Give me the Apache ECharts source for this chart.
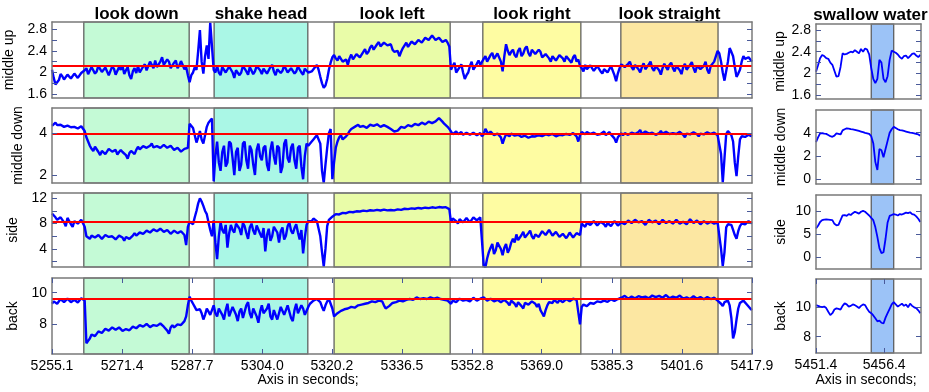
<!DOCTYPE html>
<html>
<head>
<meta charset="utf-8">
<script src="https://cdn.jsdelivr.net/npm/echarts@6/dist/echarts.min.js"></script>
<style>
html, body { margin: 0; padding: 0; background: #fff; }
#chart { width: 929px; height: 392px; }
</style>
</head>
<body>
<div id="chart"></div>
<script>
// sampling of the recordings (seconds)
var leftStart = 5255.1, leftStep = 0.4;
var rightStart = 5451.4, rightStep = 0.15;
var leftRange = [5255.1, 5417.9];
var rightRange = [5451.4, 5459.1];
var leftTicks = [5255.1, 5271.4, 5287.7, 5304.0, 5320.2, 5336.5, 5352.8, 5369.0, 5385.3, 5401.6, 5417.9];
var rightTicks = [5451.4, 5456.4];

var channels = ['middle up', 'middle down', 'side', 'back'];

var activities = ['look down', 'shake head', 'look left', 'look right', 'look straight'];
var activityStart = [5262.5, 5292.8, 5320.7, 5355.3, 5387.4];
var activityEnd = [5287.0, 5314.6, 5347.7, 5378.1, 5410.0];
var swallowName = 'swallow water';
var swallowStart = 5455.45, swallowEnd = 5457.1;

// red reference level per channel
var refLevels = [2.13, 3.95, 8.25, 9.62];

var middleUp = [
  2.05,1.9, 1.78,1.82, 1.86,1.97, 1.93,1.87, 1.88,1.96, 1.95,1.89, 1.9,1.98, 1.96,1.9, 1.92,1.99, 1.97,2.04,
  2.08,1.97, 2.0,2.1, 2.12,1.98, 2.02,2.13, 2.06,2.01, 1.98,2.09, 2.1,1.95, 2.03,2.11, 2.07,1.96, 1.99,2.1,
  2.05,2.12, 1.97,2.04, 2.1,1.95, 1.88,2.02, 2.08,1.99, 2.12,2.0, 2.03,2.11, 2.15,2.04, 2.06,2.2, 2.18,2.08,
  2.22,2.1, 2.12,2.2, 2.28,2.14, 2.15,2.24, 2.2,2.08, 2.1,2.18, 2.22,2.08, 2.13,2.21, 2.18,2.06, 2.1,1.95,
  1.82,1.95, 2.0,2.1, 2.05,2.4, 2.78,2.2, 1.98,2.3, 2.5,2.25, 2.92,2.9, 2.05,2.0, 2.12,2.0, 1.95,2.1,
  2.08,2.0, 1.98,2.11, 2.1,2.0, 1.9,2.04, 2.06,1.95, 2.0,2.12, 2.12,2.02, 1.96,2.1, 2.08,1.97, 2.02,2.12,
  2.15,2.04, 1.97,2.07, 2.1,1.98, 2.0,2.1, 2.14,2.02, 1.95,2.06, 2.08,1.99, 2.03,2.13, 2.12,2.0, 1.98,2.08,
  2.1,1.98, 2.02,2.11, 2.08,2.0, 1.96,2.07, 2.05,2.0, 1.98,2.02, 2.05,2.1, 2.14,2.05, 1.92,1.8, 1.72,1.76,
  1.88,2.05, 2.18,2.28, 2.32,2.26, 2.22,2.3, 2.28,2.2, 2.18,2.24, 2.14,2.26, 2.33,2.24, 2.26,2.34, 2.36,2.28,
  2.3,2.38, 2.43,2.34, 2.38,2.46, 2.5,2.42, 2.45,2.52, 2.56,2.48, 2.5,2.55, 2.58,2.5, 2.47,2.52, 2.42,2.38,
  2.35,2.4, 2.3,2.38, 2.45,2.5, 2.55,2.47, 2.5,2.57, 2.6,2.52, 2.54,2.6, 2.62,2.55, 2.58,2.64, 2.67,2.6,
  2.62,2.68, 2.66,2.6, 2.58,2.64, 2.62,2.56, 2.54,2.6, 2.55,2.48, 2.05,2.12, 2.18,2.0, 2.02,2.1, 2.15,2.0,
  1.88,1.95, 2.0,2.12, 2.2,2.05, 2.08,2.16, 2.22,2.14, 2.12,2.25, 2.3,2.2, 2.22,2.32, 2.36,2.25, 2.28,2.35,
  2.38,2.2, 2.02,2.3, 2.52,2.4, 2.32,2.38, 2.42,2.32, 2.28,2.4, 2.45,2.3, 2.35,2.44, 2.48,2.36, 2.3,2.42,
  2.44,2.34, 2.32,2.42, 2.38,2.28, 2.25,2.34, 2.36,2.26, 2.2,2.3, 2.33,2.22, 2.24,2.32, 2.35,2.26, 2.2,2.3,
  2.3,2.22, 2.18,2.28, 2.32,2.2, 2.24,2.12, 2.08,2.02, 2.14,2.06, 2.05,2.13, 2.12,2.03, 2.04,2.12, 2.1,2.02,
  1.98,2.06, 2.08,2.0, 2.02,2.12, 2.1,1.95, 1.84,1.98, 2.08,2.15, 2.18,2.1, 2.08,2.16, 2.2,2.1, 2.05,2.14,
  2.15,2.06, 2.0,2.1, 2.17,2.06, 2.07,2.15, 2.2,2.08, 2.03,2.12, 2.14,2.04, 1.96,2.08, 2.16,2.1, 2.05,2.14,
  2.18,2.08, 2.02,2.12, 2.13,2.04, 1.97,2.1, 2.16,2.05, 2.06,2.14, 2.19,2.08, 2.0,2.12, 2.15,2.06, 2.04,2.12,
  2.2,2.05, 1.98,2.12, 2.15,2.2, 2.22,2.4, 2.35,2.2, 2.0,1.85, 1.82,2.2, 2.45,2.38, 2.3,2.1, 1.92,1.98,
  2.05,2.2, 2.3,2.25, 2.22,2.28, 2.24,2.2
];
var middleDown = [
  4.35,4.42, 4.5,4.38, 4.3,4.4, 4.45,4.3, 4.25,4.36, 4.4,4.28, 4.2,4.3, 4.35,4.22, 4.25,4.33, 4.3,4.1,
  3.8,3.6, 3.4,3.25, 3.15,3.35, 3.3,3.1, 2.95,3.15, 3.2,3.0, 3.05,3.25, 3.3,3.12, 3.1,3.2, 2.98,3.1,
  3.2,3.1, 3.05,2.95, 2.78,3.05, 3.15,3.08, 3.0,3.2, 3.35,3.22, 3.2,3.38, 3.45,3.3, 3.3,3.4, 3.5,3.32,
  3.25,3.38, 3.4,3.3, 3.3,3.44, 3.42,3.3, 3.28,3.4, 3.35,3.2, 3.15,3.3, 3.25,3.12, 3.1,3.25, 3.2,3.3,
  4.45,4.38, 4.25,3.9, 3.55,3.8, 4.1,3.7, 3.5,3.9, 4.3,4.5, 4.6,4.7, 1.7,2.9, 3.6,2.6, 2.2,3.1,
  3.4,2.4, 2.6,3.6, 3.5,2.8, 2.0,3.1, 3.3,2.2, 2.5,3.5, 3.6,2.7, 2.3,3.4, 3.2,2.5, 2.0,3.2,
  3.5,2.9, 2.7,3.3, 3.4,2.5, 2.2,3.2, 3.6,2.9, 2.5,3.4, 3.3,2.1, 2.4,3.5, 3.7,2.8, 2.6,3.3,
  3.5,2.7, 2.3,3.3, 3.4,2.4, 1.8,2.9, 3.5,3.4, 3.45,3.6, 3.7,3.8, 3.9,3.95, 3.5,2.2, 1.62,2.5,
  3.3,4.0, 4.2,1.8, 2.6,3.3, 3.6,3.8, 3.9,3.7, 3.75,3.85, 3.95,4.1, 4.2,4.22, 4.3,4.35, 4.4,4.3,
  4.28,4.34, 4.38,4.25, 4.3,4.4, 4.45,4.35, 4.32,4.42, 4.4,4.3, 4.3,4.38, 4.42,4.3, 4.25,4.2, 4.15,4.08,
  4.05,4.12, 4.2,4.3, 4.35,4.25, 4.3,4.38, 4.42,4.32, 4.35,4.44, 4.48,4.38, 4.4,4.5, 4.52,4.42, 4.45,4.55,
  4.58,4.48, 4.5,4.56, 4.6,4.72, 4.68,4.55, 4.45,4.38, 4.3,4.2, 4.15,3.95, 4.02,4.08, 3.95,3.88, 4.05,3.92,
  3.9,4.02, 4.0,3.92, 3.88,4.02, 3.98,3.9, 3.92,4.0, 3.85,3.95, 4.2,4.05, 3.95,4.08, 4.05,3.9, 3.85,3.98,
  4.0,3.8, 3.5,3.75, 3.95,3.9, 3.85,3.98, 4.02,3.88, 3.8,3.92, 3.95,3.82, 3.75,3.88, 3.9,3.78, 3.7,3.85,
  3.92,3.84, 3.8,3.9, 3.95,3.86, 3.82,3.94, 4.0,3.9, 3.85,3.96, 3.95,3.85, 3.8,3.92, 4.0,3.9, 3.88,3.96,
  4.02,3.92, 3.9,4.0, 3.98,3.85, 3.6,3.9, 4.05,3.98, 3.95,4.05, 4.1,3.96, 3.92,4.02, 4.05,3.92, 3.85,3.96,
  4.0,4.08, 3.9,3.98, 4.05,3.94, 3.88,3.75, 3.55,3.8, 3.9,4.0, 3.9,4.0, 4.05,3.92, 3.85,4.02, 4.1,3.96,
  3.95,4.05, 4.15,3.96, 3.98,4.08, 4.12,3.98, 3.9,4.02, 4.05,3.92, 3.85,4.0, 4.1,3.98, 3.95,4.06, 4.12,3.96,
  3.88,4.0, 4.08,3.96, 3.95,4.06, 4.1,3.92, 3.8,3.98, 4.05,3.94, 3.92,4.04, 4.1,3.95, 3.85,3.98, 4.05,3.94,
  3.95,4.04, 4.1,3.96, 3.9,4.02, 4.0,3.9, 3.9,3.0, 1.65,2.8, 3.95,4.1, 4.15,3.9, 3.6,2.6, 1.95,2.9,
  3.7,3.85, 3.9,3.82, 3.85,3.92, 3.9,3.85
];
var side = [
  9.6,9.3, 9.0,8.6, 8.3,9.0, 8.8,8.2, 7.6,8.9, 8.6,7.9, 7.5,8.4, 8.7,8.0, 7.8,8.6, 8.5,7.5,
  6.0,5.7, 5.6,6.1, 6.2,5.8, 5.7,6.2, 6.1,5.6, 5.8,6.2, 6.3,5.9, 5.6,6.0, 6.1,5.5, 5.7,6.1,
  6.0,5.8, 5.3,5.9, 6.0,5.6, 5.8,6.1, 6.5,6.1, 6.2,6.6, 6.8,6.4, 6.5,6.9, 7.0,6.6, 6.8,7.1,
  7.2,6.8, 6.9,7.2, 7.1,6.7, 6.6,7.0, 6.9,6.4, 6.5,6.9, 6.8,6.5, 6.4,6.8, 6.9,6.2, 4.6,7.5,
  8.3,8.5, 7.9,9.0, 10.0,11.2, 12.0,11.5, 10.8,10.0, 9.5,8.2, 7.0,6.0, 8.5,5.0, 2.4,6.0, 8.2,7.0,
  6.5,7.8, 4.2,6.5, 7.8,7.0, 6.6,8.0, 8.3,7.2, 6.2,8.1, 7.6,6.5, 5.6,7.4, 8.0,6.9, 6.3,7.7,
  7.5,6.4, 5.8,7.3, 3.6,6.2, 7.2,5.3, 6.0,7.5, 7.8,6.6, 5.0,6.8, 7.4,5.5, 6.1,7.6, 8.2,6.9,
  6.4,7.3, 7.9,6.6, 5.5,7.0, 3.3,5.8, 7.8,8.4, 8.6,8.4, 8.8,8.7, 8.4,8.5, 6.0,3.5, 1.2,4.0,
  7.6,8.6, 8.9,9.1, 9.3,9.5, 9.6,9.45, 9.5,9.7, 9.75,9.65, 9.7,9.85, 9.9,9.8, 9.85,9.95, 10.0,9.92,
  9.95,10.05, 10.1,9.98, 10.0,10.12, 10.15,10.05, 10.05,10.18, 10.2,10.08, 10.1,10.22, 10.2,10.1, 10.05,10.15, 10.2,10.1,
  10.15,10.25, 10.3,10.18, 10.2,10.35, 10.4,10.3, 10.3,10.42, 10.45,10.35, 10.35,10.48, 10.5,10.4, 10.4,10.52, 10.55,10.45,
  10.5,10.58, 10.6,10.5, 10.5,10.62, 10.65,10.55, 10.5,10.6, 10.4,10.3, 8.2,8.8, 9.0,8.4, 8.0,8.7, 8.9,8.2,
  8.3,8.9, 8.8,8.2, 8.6,9.0, 9.1,8.5, 8.7,9.0, 8.8,1.5, 1.1,2.5, 3.5,4.2, 4.8,3.2, 3.8,5.0,
  5.2,4.0, 3.0,4.2, 4.8,3.4, 4.0,5.0, 5.6,5.0, 6.3,5.4, 5.5,6.2, 6.7,5.8, 6.0,6.5, 6.9,6.0,
  5.6,6.3, 6.6,5.9, 6.2,6.8, 7.0,6.2, 6.4,7.0, 6.8,6.1, 6.0,6.7, 6.6,5.9, 5.8,6.4, 6.5,5.7,
  6.1,6.6, 6.4,5.8, 5.9,6.5, 6.3,6.2, 8.0,8.3, 7.5,8.1, 8.3,7.8, 7.6,8.4, 8.2,7.7, 7.8,8.3,
  8.4,7.9, 7.5,8.1, 8.3,7.6, 7.9,8.4, 8.2,7.7, 7.8,8.2, 8.3,7.9, 7.8,8.5, 8.6,8.1, 8.0,8.6,
  8.7,8.2, 7.9,8.4, 8.5,7.8, 8.1,8.6, 8.8,8.2, 7.9,8.5, 8.6,7.9, 8.0,8.6, 8.5,8.1, 7.8,8.4,
  8.7,8.0, 8.1,8.6, 8.4,8.0, 7.7,8.3, 8.6,7.9, 8.2,8.7, 8.5,8.1, 7.9,8.5, 8.6,7.9, 8.0,8.4,
  8.4,8.0, 7.8,8.3, 8.5,8.0, 8.3,8.2, 8.0,4.0, 1.3,3.5, 7.4,7.9, 8.2,7.8, 7.0,6.2, 5.6,6.8,
  7.6,8.0, 8.2,7.9, 8.0,8.4, 8.3,8.0
];
var back = [
  9.3,9.45, 9.55,9.3, 9.35,9.6, 9.6,9.4, 9.4,9.62, 9.65,9.4, 9.35,9.55, 9.6,9.38, 9.45,9.65, 9.6,9.5,
  6.8,6.95, 7.1,7.35, 7.45,7.25, 7.3,7.55, 7.65,7.45, 7.5,7.72, 7.8,7.6, 7.6,7.8, 7.85,7.65, 7.55,7.8,
  7.7,7.58, 7.5,7.7, 7.75,7.62, 7.6,7.85, 7.95,7.75, 7.7,7.95, 8.05,7.85, 7.8,8.02, 8.0,7.82, 7.75,7.95,
  8.05,7.9, 7.85,8.05, 8.0,7.85, 7.8,7.6, 7.4,7.8, 7.95,7.8, 7.75,8.0, 8.1,7.95, 7.9,8.2, 8.5,9.2,
  9.75,9.5, 9.3,9.1, 8.9,8.8, 8.95,8.7, 8.3,8.6, 9.0,8.8, 8.6,8.9, 9.2,8.7, 8.5,9.0, 9.1,8.6,
  8.3,8.9, 9.3,8.5, 8.6,9.1, 9.2,8.6, 8.2,8.8, 9.0,8.4, 8.5,9.2, 9.4,8.7, 8.4,9.0, 9.1,8.5,
  8.1,8.8, 9.2,8.7, 8.6,9.0, 9.3,8.5, 8.3,8.9, 9.0,8.3, 8.4,9.1, 9.2,8.6, 8.5,9.2, 9.1,8.4,
  8.2,8.9, 9.3,8.7, 8.6,9.2, 9.0,8.6, 8.7,9.1, 9.3,9.4, 9.5,9.55, 9.6,9.5, 9.4,9.1, 8.85,9.2,
  9.45,9.6, 9.65,9.0, 8.5,8.6, 8.7,8.8, 8.85,8.9, 8.95,9.05, 9.0,9.0, 9.1,9.15, 9.05,9.1, 9.2,9.25,
  9.25,9.32, 9.3,9.28, 9.35,9.42, 9.45,9.38, 9.4,9.48, 9.5,9.42, 9.45,9.2, 9.0,9.05, 9.15,9.25, 9.35,9.3,
  9.4,9.45, 9.5,9.42, 9.45,9.52, 9.55,9.5, 9.6,9.52, 9.55,9.65, 9.7,9.62, 9.6,9.68, 9.65,9.58, 9.6,9.68,
  9.7,9.65, 9.62,9.7, 9.68,9.62, 9.6,9.58, 9.55,9.6, 9.5,9.45, 9.3,9.5, 9.6,9.4, 9.45,9.62, 9.7,9.5,
  9.4,9.55, 9.65,9.45, 9.5,9.68, 9.75,9.5, 9.45,9.62, 9.6,9.7, 9.6,9.5, 9.4,9.62, 9.65,9.45, 9.35,9.55,
  9.55,9.4, 9.3,9.55, 9.5,9.35, 9.2,9.5, 9.45,9.3, 9.1,9.4, 9.3,9.15, 9.0,9.35, 9.4,9.25, 9.2,9.45,
  9.5,9.3, 9.1,9.3, 8.9,8.7, 8.5,8.9, 9.2,9.4, 9.5,9.35, 9.55,9.5, 9.35,9.55, 9.6,9.4, 9.45,9.6,
  9.65,9.45, 9.5,9.62, 9.7,9.55, 9.5,8.0, 9.1,9.25, 9.3,9.15, 9.2,9.35, 9.45,9.3, 9.3,9.45, 9.5,9.4,
  9.35,9.5, 9.55,9.42, 9.4,9.58, 9.6,9.48, 9.45,9.6, 9.55,9.68, 9.6,9.8, 9.75,9.62, 9.55,9.75, 9.8,9.65,
  9.65,9.78, 9.85,9.7, 9.6,9.75, 9.8,9.65, 9.7,9.82, 9.9,9.72, 9.65,9.8, 9.85,9.68, 9.7,9.85, 9.8,9.65,
  9.6,9.75, 9.85,9.68, 9.7,9.82, 9.8,9.62, 9.55,9.7, 9.75,9.6, 9.65,9.78, 9.8,9.62, 9.55,9.72, 9.7,9.58,
  9.6,9.72, 9.75,9.6, 9.55,9.68, 9.7,9.5, 9.4,9.3, 9.15,9.4, 9.45,9.5, 9.2,8.4, 7.1,7.5, 8.3,9.0,
  9.35,9.45, 9.5,9.4, 9.25,9.2, 9.0,8.9
];

// swallow water recording
var swMiddleUp = [
  2.03, 2.15, 2.28, 2.34, 2.32, 2.28, 2.27, 2.2, 2.16, 2.05,
  1.94, 1.95, 2.12, 2.37, 2.35, 2.36, 2.38, 2.4, 2.39, 2.43,
  2.4, 2.37, 2.45, 2.4, 2.46, 2.44, 2.35, 2.1, 1.9, 1.82,
  1.9, 2.25, 2.2, 1.9, 1.84, 1.95, 2.25, 2.42, 2.4, 2.38,
  2.35, 2.3, 2.27, 2.32, 2.33, 2.28, 2.32, 2.36, 2.37, 2.33,
  2.3, 2.34
];
var swMiddleDown = [
  3.2, 3.6, 3.95, 3.97, 3.92, 3.9, 3.8, 3.7, 3.65, 3.75,
  3.95, 3.9, 3.85, 4.2, 4.3, 4.37, 4.35, 4.3, 4.28, 4.25,
  4.2, 4.15, 4.1, 4.05, 3.98, 3.95, 3.9, 3.7, 3.1, 1.5,
  0.8, 2.6, 2.5, 1.9, 2.6, 3.3, 4.0, 4.3, 4.5, 4.4,
  4.3, 4.22, 4.2, 4.15, 4.1, 4.05, 4.0, 3.98, 3.95, 3.9,
  3.85, 3.75
];
var swSide = [
  6.2, 6.8, 7.6, 8.0, 8.1, 8.15, 8.1, 8.05, 8.0, 7.2,
  6.9, 7.0, 8.0, 9.0, 9.1, 8.9, 9.3, 9.1, 9.5, 9.8,
  9.6, 9.4, 9.8, 10.0, 9.8, 9.4, 9.0, 8.5, 8.0, 6.5,
  4.4, 2.0, 0.9, 1.1, 4.0, 7.5, 8.9, 9.1, 9.3, 9.2,
  9.0, 9.3, 9.2, 9.4, 9.6, 9.5, 9.7, 9.3, 9.2, 8.8,
  8.3, 7.6
];
var swBack = [
  10.15, 10.1, 10.05, 10.02, 10.05, 9.95, 9.7, 9.47, 9.6, 9.85,
  9.93, 9.9, 9.85, 10.1, 10.27, 10.2, 10.05, 10.1, 10.2, 10.15,
  10.05, 9.95, 10.1, 10.2, 10.15, 9.9, 9.7, 9.6, 9.45, 9.25,
  9.05, 9.1, 8.95, 8.9, 9.3, 9.6, 9.9, 10.2, 10.35, 10.2,
  10.05, 10.15, 10.25, 10.1, 10.2, 10.0, 10.25, 10.1, 10.0, 9.95,
  9.8, 9.6
];

var leftValues = [middleUp, middleDown, side, back];
var rightValues = [swMiddleUp, swMiddleDown, swSide, swBack];

// y axis scales and ticks
var leftYRange = [[1.53, 2.93], [1.62, 5.2], [1.15, 12.84], [6.12, 10.93]];
var leftYTicks = [[1.6, 1.8, 2, 2.2, 2.4, 2.6, 2.8], [2, 4], [2, 4, 6, 8, 10, 12], [8, 10]];
var leftYLabels = [[1.6, 2, 2.4, 2.8], [2, 4], [4, 8, 12], [8, 10]];
var rightYRange = [[1.53, 2.91], [-0.4, 5.95], [-2.5, 13.4], [6.89, 11.93]];
var rightYTicks = [[1.6, 1.8, 2, 2.2, 2.4, 2.6, 2.8], [0, 2, 4], [0, 5, 10], [8, 10]];
var rightYLabels = [[1.6, 2, 2.4, 2.8], [0, 2, 4], [0, 5, 10], [8, 10]];

// layout
var leftBox = { left: 52, width: 700 };
var rightBox = { left: 816, width: 105 };
var leftRows = [[22, 76], [108, 75], [193, 74], [278, 76]];
var rightRows = [[24, 75], [110, 74], [195, 74], [279, 74]];
var bandColors = ['#c4fad6', '#aaf7e6', '#e9fca8', '#fefca2', '#fce7a2'];
var swallowColor = '#9cc3f7';
var frameColor = '#7a7a7a';
var tickColor = '#4a5a9a';
var font = '"Liberation Sans", Arial, sans-serif';

var grids = [], xAxes = [], yAxes = [], series = [];

function addPanel(p) {
  var k = grids.length;
  // outerBoundsMode none: keep the boxes exactly where they are (v6 otherwise shrinks them)
  grids.push({ left: p.box.left, width: p.box.width, top: p.row[0], height: p.row[1], outerBoundsMode: 'none' });
  ['bottom', 'top'].forEach(function (pos) {
    xAxes.push({
      gridIndex: k, type: 'value', position: pos, min: p.xr[0], max: p.xr[1], z: 5,
      axisLine: { show: true, onZero: false, lineStyle: { color: frameColor, width: 1.5 } },
      axisTick: { show: p.bottom, inside: true, length: 5, customValues: p.xTicks, lineStyle: { color: tickColor } },
      axisLabel: { show: p.bottom && pos === 'bottom', customValues: p.xTicks, margin: 5, fontSize: 14, color: '#000',
        fontFamily: font, formatter: function (v) { return v.toFixed(1); } },
      splitLine: { show: false }
    });
  });
  ['left', 'right'].forEach(function (pos) {
    yAxes.push({
      gridIndex: k, type: 'value', position: pos, min: p.yr[0], max: p.yr[1], z: 5,
      name: pos === 'left' ? p.name : '', nameLocation: 'middle', nameGap: p.nameGap,
      nameTextStyle: { fontSize: 14, color: '#000', fontFamily: font },
      axisLine: { show: true, onZero: false, lineStyle: { color: frameColor, width: 1.5 } },
      axisTick: { show: true, inside: true, length: 5, customValues: p.yTicks, lineStyle: { color: tickColor } },
      axisLabel: { show: pos === 'left', customValues: p.yLabels, margin: 5, fontSize: 14, color: '#000', fontFamily: font },
      splitLine: { show: false }
    });
  });
  var s = {
    type: 'line', xAxisIndex: 2 * k, yAxisIndex: 2 * k, symbol: 'none', animation: false, z: 3,
    data: p.values.map(function (v, i) { return [p.start + i * p.step, v]; }),
    lineStyle: { color: '#0000ff', width: p.lw },
    markArea: { silent: true, data: p.bands }
  };
  if (p.ref != null) {
    s.markLine = {
      silent: true, symbol: ['none', 'none'], label: { show: false }, animation: false,
      lineStyle: { color: '#ff0000', width: 2, type: 'solid' },
      data: [{ yAxis: p.ref }]
    };
  }
  series.push(s);
}

function band(s, e, color) {
  return [{ xAxis: s, itemStyle: { color: color, borderColor: '#555', borderWidth: 1.2 } }, { xAxis: e }];
}
// fresh objects for every panel
function leftBands() {
  return activities.map(function (a, i) { return band(activityStart[i], activityEnd[i], bandColors[i]); });
}
function rightBands() {
  return [band(swallowStart, swallowEnd, swallowColor)];
}

for (var c = 0; c < 4; c++) {
  addPanel({ box: leftBox, row: leftRows[c], xr: leftRange, xTicks: leftTicks, bottom: c === 3,
    yr: leftYRange[c], yTicks: leftYTicks[c], yLabels: leftYLabels[c], name: channels[c], nameGap: 27,
    values: leftValues[c], start: leftStart, step: leftStep, bands: leftBands(), ref: refLevels[c], lw: 2.4 });
  addPanel({ box: rightBox, row: rightRows[c], xr: rightRange, xTicks: rightTicks, bottom: c === 3,
    yr: rightYRange[c], yTicks: rightYTicks[c], yLabels: rightYLabels[c], name: channels[c], nameGap: 28,
    values: rightValues[c], start: rightStart, step: rightStep, bands: rightBands(), ref: null, lw: 1.8 });
}

function leftPx(t) {
  return leftBox.left + (t - leftRange[0]) / (leftRange[1] - leftRange[0]) * leftBox.width;
}

var graphics = activities.map(function (a, i) {
  return { type: 'text', x: leftPx((activityStart[i] + activityEnd[i]) / 2), y: 14,
    style: { text: a, font: 'bold 17px ' + font, fill: '#000', align: 'center', verticalAlign: 'middle',
      textAlign: 'center', textVerticalAlign: 'middle' } };
});
graphics.push({ type: 'text', x: rightBox.left + rightBox.width / 2 + 2, y: 15,
  style: { text: swallowName, font: 'bold 17px ' + font, fill: '#000', align: 'center', verticalAlign: 'middle',
    textAlign: 'center', textVerticalAlign: 'middle' } });
[[308, 380], [866, 380]].forEach(function (pt) {
  graphics.push({ type: 'text', x: pt[0], y: pt[1],
    style: { text: 'Axis in seconds;', font: '14px ' + font, fill: '#000', align: 'center', verticalAlign: 'middle',
      textAlign: 'center', textVerticalAlign: 'middle' } });
});

var chart = echarts.init(document.getElementById('chart'), null, { renderer: 'canvas' });
chart.setOption({
  animation: false,
  backgroundColor: '#fff',
  textStyle: { fontFamily: font },
  grid: grids,
  xAxis: xAxes,
  yAxis: yAxes,
  series: series,
  graphic: graphics
});
</script>
</body>
</html>
